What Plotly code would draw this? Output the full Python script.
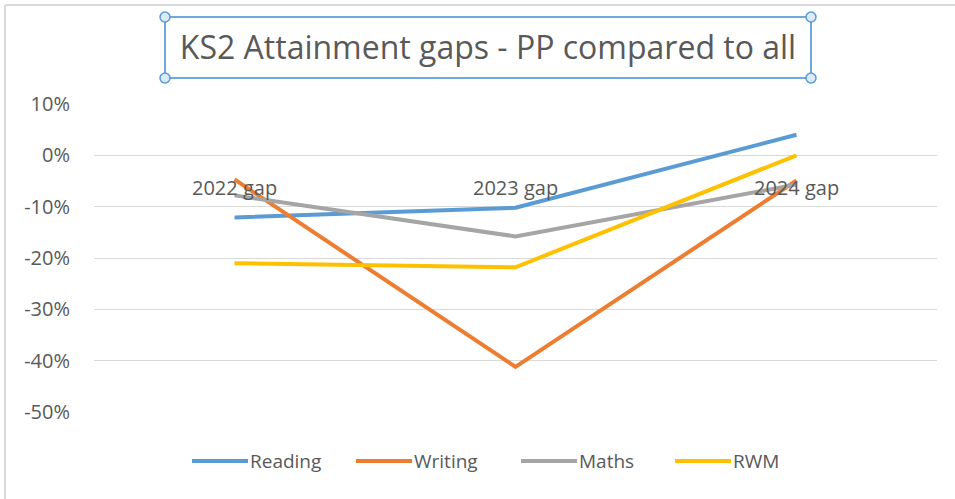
import plotly.graph_objects as go

categories = ["2022 gap", "2023 gap", "2024 gap"]
reading = [-0.121, -0.102, 0.040]
writing = [-0.047, -0.412, -0.049]
maths = [-0.078, -0.158, -0.057]
rwm = [-0.210, -0.218, 0.000]

series_names = ["Reading", "Writing", "Maths", "RWM"]
series_values = [reading, writing, maths, rwm]
series_colors = ["#5B9BD5", "#ED7D31", "#A5A5A5", "#FFC000"]

tick_vals = [0.1, 0.0, -0.1, -0.2, -0.3, -0.4, -0.5]
tick_text = ["10%", "0%", "-10%", "-20%", "-30%", "-40%", "-50%"]

FONT = "Open Sans"
TEXT = "#595959"

W, H = 955, 499
ml, mr, mt, mb = 94, 18, 104, 87
pw, ph = W - ml - mr, H - mt - mb

def px(x):
    return (x - ml) / pw

def py(y):
    return (H - mb - y) / ph

fig = go.Figure()
for name, vals, col in zip(series_names, series_values, series_colors):
    fig.add_trace(go.Scatter(x=categories, y=vals, mode="lines", name=name,
                             line=dict(color=col, width=4), showlegend=False))

# category labels drawn at the value axis crossing (0%)
for c in categories:
    fig.add_annotation(x=c, y=0, xref="x", yref="y", text=c, showarrow=False,
                       yanchor="top", yshift=-17,
                       font=dict(family=FONT, size=20, color=TEXT))

shapes = []
# outer chart border (top and left visible)
shapes.append(dict(type="line", xref="paper", yref="paper", x0=px(5), x1=px(W + 5),
                   y0=py(5), y1=py(5), line=dict(color="#D9D9D9", width=2)))
shapes.append(dict(type="line", xref="paper", yref="paper", x0=px(5), x1=px(5),
                   y0=py(5), y1=py(H + 5), line=dict(color="#D9D9D9", width=2)))
# title selection box
bx0, bx1, by0, by1 = 165, 811, 17, 78
shapes.append(dict(type="rect", xref="paper", yref="paper", x0=px(bx0), x1=px(bx1),
                   y0=py(by1), y1=py(by0), line=dict(color="#6FA8DC", width=2)))
for cx in (bx0, bx1):
    for cy in (by0, by1):
        shapes.append(dict(type="circle", xref="paper", yref="paper",
                           xsizemode="pixel", ysizemode="pixel",
                           xanchor=px(cx), yanchor=py(cy), x0=-5, x1=5, y0=-5, y1=5,
                           fillcolor="#DCEAF7", line=dict(color="#5B9BD5", width=1.5)))

# legend (drawn manually to match long legend keys)
legend_x = [192, 356, 521, 675]
legend_y = 461
for name, col, lx in zip(series_names, series_colors, legend_x):
    shapes.append(dict(type="line", xref="paper", yref="paper",
                       x0=px(lx), x1=px(lx + 56), y0=py(legend_y), y1=py(legend_y),
                       line=dict(color=col, width=4)))
    fig.add_annotation(x=px(lx + 56), y=py(legend_y), xref="paper", yref="paper",
                       text=name, showarrow=False, xanchor="left", yanchor="middle",
                       font=dict(family=FONT, size=19, color=TEXT))

fig.update_layout(
    width=W, height=H,
    margin=dict(l=ml, r=mr, t=mt, b=mb),
    paper_bgcolor="white", plot_bgcolor="white",
    font=dict(family=FONT, color=TEXT),
    showlegend=False,
    title=dict(text="KS2 Attainment gaps - PP compared to all",
               x=(bx0 + bx1) / 2 / W, y=1 - 48 / H, xanchor="center", yanchor="middle",
               font=dict(family=FONT, size=32, color=TEXT)),
    xaxis=dict(showgrid=False, showticklabels=False, showline=False, zeroline=False,
               range=[-0.5, 2.5]),
    yaxis=dict(range=[-0.5, 0.1], tickvals=tick_vals, ticktext=tick_text,
               showgrid=True, gridcolor="#D9D9D9", gridwidth=1, zeroline=False,
               showline=False, ticklabelstandoff=23,
               tickfont=dict(family=FONT, size=20, color=TEXT)),
    shapes=shapes,
)

fig.write_html("out.html", config={"displayModeBar": False},
               post_script="document.body.style.margin='0';document.body.style.padding='0';")
